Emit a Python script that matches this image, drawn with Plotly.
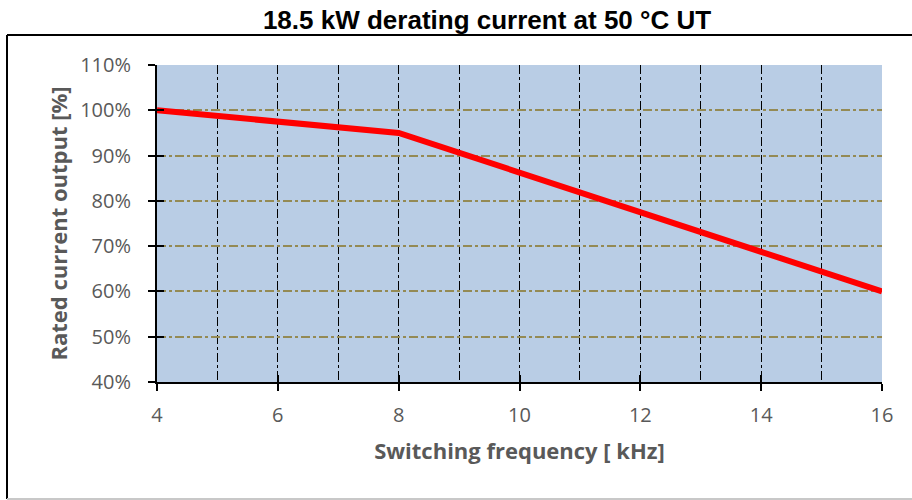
import plotly.graph_objects as go

# Derating curve: switching frequency [kHz] vs rated current output [%]
freq_khz = [4, 8, 16]
rated_pct = [100, 95, 60]

x_ticks = [4, 6, 8, 10, 12, 14, 16]
y_ticks = [40, 50, 60, 70, 80, 90, 100, 110]
y_tick_labels = [f"{v}%" for v in y_ticks]

title_text = "18.5 kW derating current at 50 °C UT"
x_title = "Switching frequency [ kHz]"
y_title = "Rated current output [%]"

# plot area geometry (pixels)
W, H = 912, 500
L, R, T, B = 157, 30, 65, 118
pw, ph = W - L - R, H - T - B


def px(xp):
    return (xp - L) / pw


def py(yp):
    return (H - B - yp) / ph


tick_font = dict(family="Open Sans", size=20, color="#595959")
title_font = dict(family="Open Sans", size=22, color="#595959")
x_range = [4, 16]
y_range = [40, 110]

fig = go.Figure()
fig.add_trace(go.Scatter(
    x=freq_khz, y=rated_pct, mode="lines",
    line=dict(color="#FF0000", width=6),
    showlegend=False, hoverinfo="skip",
))
# invisible traces on overlay axes: inner tick marks and y tick labels
fig.add_trace(go.Scatter(x=x_range, y=y_range, xaxis="x2", yaxis="y2",
                         mode="markers", marker=dict(opacity=0),
                         showlegend=False, hoverinfo="skip"))
fig.add_trace(go.Scatter(x=x_range, y=y_range, xaxis="x", yaxis="y3",
                         mode="markers", marker=dict(opacity=0),
                         showlegend=False, hoverinfo="skip"))

fig.update_layout(
    width=W, height=H,
    margin=dict(l=L, r=R, t=T, b=B),
    paper_bgcolor="white",
    plot_bgcolor="#B9CDE5",
    title=dict(text=f"<b>{title_text}</b>", x=px(487), xref="paper",
               xanchor="center", y=1 - 20 / H, yanchor="middle",
               font=dict(family="Liberation Sans, Arial", size=26, color="black")),
    xaxis=dict(
        range=x_range, tickvals=x_ticks, ticktext=[str(v) for v in x_ticks],
        showline=True, linecolor="black", linewidth=2,
        ticks="outside", ticklen=7, tickwidth=2, tickcolor="black",
        tickfont=tick_font, ticklabelstandoff=7,
        showgrid=True, gridcolor="#000000", gridwidth=1.3, griddash="dashdot",
        minor=dict(dtick=1, tick0=4, showgrid=True, gridcolor="#000000",
                   gridwidth=1.3, griddash="dashdot", ticks=""),
        zeroline=False,
        title=dict(text=f"<b>{x_title}</b>", font=title_font, standoff=17),
    ),
    yaxis=dict(
        range=y_range, tickvals=y_ticks,
        showline=True, linecolor="black", linewidth=2,
        ticks="outside", ticklen=7, tickwidth=2, tickcolor="black",
        showticklabels=False,
        showgrid=True, gridcolor="#948A54", gridwidth=2, griddash="dashdot",
        zeroline=False,
    ),
    xaxis2=dict(range=x_range, overlaying="x", side="bottom", tickvals=x_ticks,
                ticks="inside", ticklen=7, tickwidth=2, tickcolor="black",
                showticklabels=False, showgrid=False, zeroline=False, showline=False),
    yaxis2=dict(range=y_range, overlaying="y", side="left", tickvals=y_ticks,
                ticks="inside", ticklen=7, tickwidth=2, tickcolor="black",
                showticklabels=False, showgrid=False, zeroline=False, showline=False),
    # label axis: long transparent ticks push the labels away from the axis line
    yaxis3=dict(range=y_range, overlaying="y", side="left", tickvals=y_ticks,
                ticktext=y_tick_labels, tickfont=tick_font,
                ticks="outside", ticklen=21, tickcolor="rgba(0,0,0,0)",
                showgrid=False, zeroline=False, showline=False,
                title=dict(text=f"<b>{y_title}</b>", font=title_font, standoff=6)),
    shapes=[
        # chart frame: top and left edges dark, bottom edge light grey
        dict(type="line", xref="paper", yref="paper",
             x0=px(7), x1=px(913), y0=py(35), y1=py(35),
             line=dict(color="black", width=2)),
        dict(type="line", xref="paper", yref="paper",
             x0=px(7), x1=px(7), y0=py(35), y1=py(499),
             line=dict(color="black", width=2)),
        dict(type="line", xref="paper", yref="paper",
             x0=px(7), x1=px(913), y0=py(499), y1=py(499),
             line=dict(color="#C8C8C8", width=2)),
    ],
)

fig.write_html("out.html")
